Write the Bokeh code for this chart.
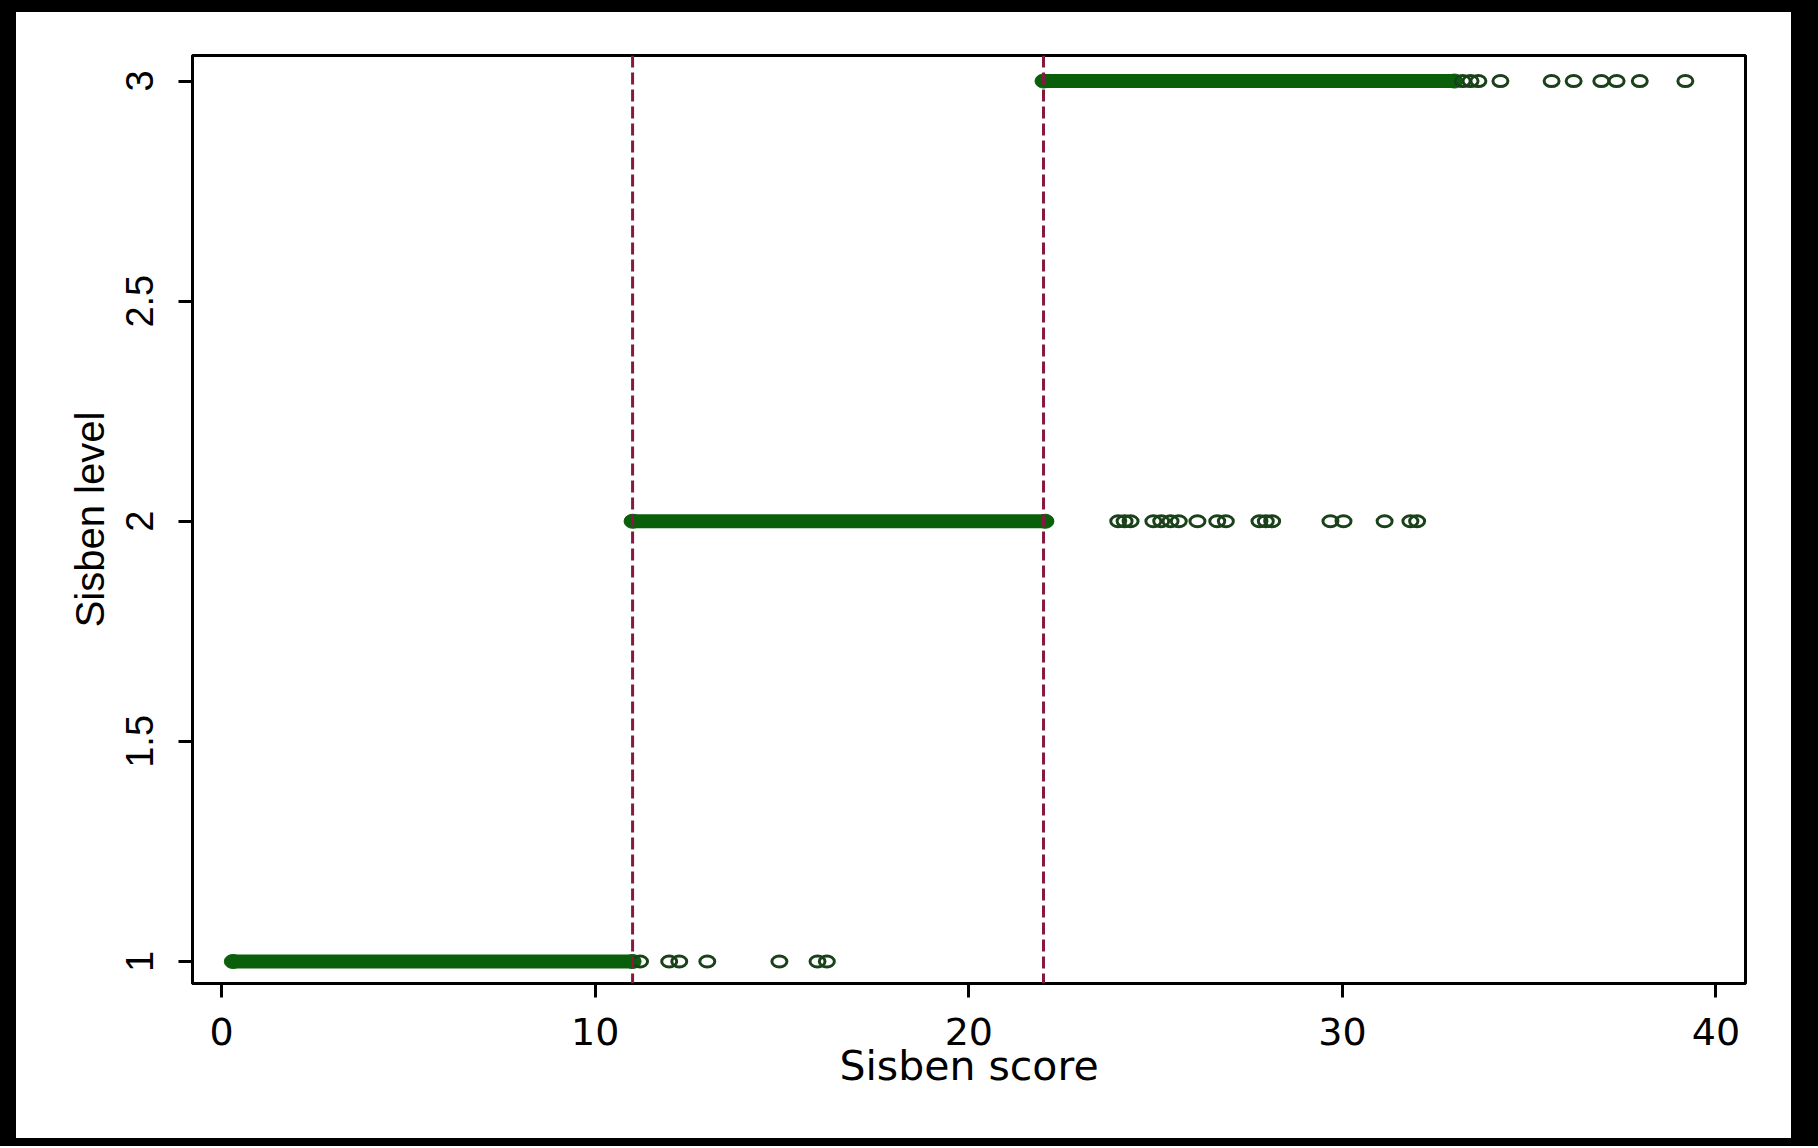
from bokeh.plotting import figure
from bokeh.models import Span, FixedTicker, Range1d, ColumnDataSource, NumeralTickFormatter
from bokeh.embed import file_html
from bokeh.resources import INLINE

# ---- data ----
levels = [1, 2, 3]
dense_start = [0.3, 11.0, 22.0]     # start of the dense run of observations per level
dense_end = [11.0, 22.05, 33.0]     # end of the dense run per level
cutoffs = [11.0, 22.0]              # Sisben score cut-offs (dashed lines)

out1_x = [11.2, 11.98, 12.25, 13.0, 14.93, 15.95, 16.2]
out2_x = [24.0, 24.17, 24.33, 24.94, 25.15, 25.4, 25.62, 26.12, 26.65, 26.88,
          27.78, 27.95, 28.12, 29.68, 30.03, 31.13, 31.82, 32.0]
out3_x = [33.22, 33.43, 33.64, 34.23, 35.6, 36.19, 36.93, 37.34, 37.96, 39.18]

x_ticks = [0, 10, 20, 30, 40]
y_ticks = [1, 1.5, 2, 2.5, 3]

GREEN = "#0A5F0A"
DARK = "#1A421A"
MAROON = "#861A3E"

W, H = 1818, 1146
p = figure(width=W, height=H, output_backend="svg", toolbar_location=None,
           x_range=Range1d(-0.78, 40.79), y_range=Range1d(0.95, 3.058),
           min_border_left=192, min_border_right=W - 1745,
           min_border_top=55, min_border_bottom=H - 983)
p.background_fill_color = "white"
p.border_fill_color = None
p.styles = {
    "background-color": "white",
    "box-shadow": ("inset 16px 0 0 0 black, inset 0 12px 0 0 black, "
                   "inset -27px 0 0 0 black, inset 0 -8px 0 0 black"),
}
p.outline_line_color = "black"
p.outline_line_width = 3
p.grid.visible = False

# dense runs
p.segment(x0=dense_start, y0=levels, x1=dense_end, y1=levels,
          line_width=14, line_color=GREEN, line_cap="butt")
ends_x = dense_start + dense_end
ends_y = levels + levels
p.ellipse(x=ends_x, y=ends_y, width=17, height=14, width_units="screen", height_units="screen",
          fill_color=GREEN, line_color=GREEN, line_width=1)

# individual (outlying) observations
ox = out1_x + out2_x + out3_x
oy = [1] * len(out1_x) + [2] * len(out2_x) + [3] * len(out3_x)
src = ColumnDataSource(dict(x=ox, y=oy))
p.ellipse(x="x", y="y", width=15, height=11, width_units="screen", height_units="screen",
          fill_color=None, line_color=DARK, line_width=3, source=src)

for c in cutoffs:
    p.add_layout(Span(location=c, dimension="height", line_color=MAROON,
                      line_width=3, line_dash="12 5"))

# axes
for ax in (p.xaxis[0], p.yaxis[0]):
    ax.axis_line_width = 3
    ax.axis_line_color = "black"
    ax.major_tick_line_width = 3
    ax.major_tick_line_color = "black"
    ax.major_tick_out = 14
    ax.major_tick_in = 0
    ax.minor_tick_line_color = None
    ax.major_label_text_color = "black"
    ax.axis_label_text_color = "black"
    ax.axis_label_text_font_style = "normal"

p.xaxis.ticker = FixedTicker(ticks=x_ticks)
p.xaxis.axis_label = "Sisben score"
p.xaxis.major_label_text_font = "DejaVu Sans"
p.xaxis.major_label_text_font_size = "38px"
p.xaxis.major_label_standoff = 20
p.xaxis.axis_label_text_font = "DejaVu Sans"
p.xaxis.axis_label_text_font_size = "41px"
p.xaxis.axis_label_standoff = -6

p.yaxis.ticker = FixedTicker(ticks=y_ticks)
p.yaxis.formatter = NumeralTickFormatter(format="0.[0]")
p.yaxis.axis_label = "Sisben level"
p.yaxis.major_label_orientation = "vertical"
p.yaxis.major_label_text_font = "Liberation Sans"
p.yaxis.major_label_text_font_size = "38px"
p.yaxis.major_label_standoff = 25
p.yaxis.axis_label_text_font = "Liberation Sans"
p.yaxis.axis_label_text_font_size = "40px"
p.yaxis.axis_label_standoff = 12

open("out.html", "w").write(file_html(p, INLINE))
